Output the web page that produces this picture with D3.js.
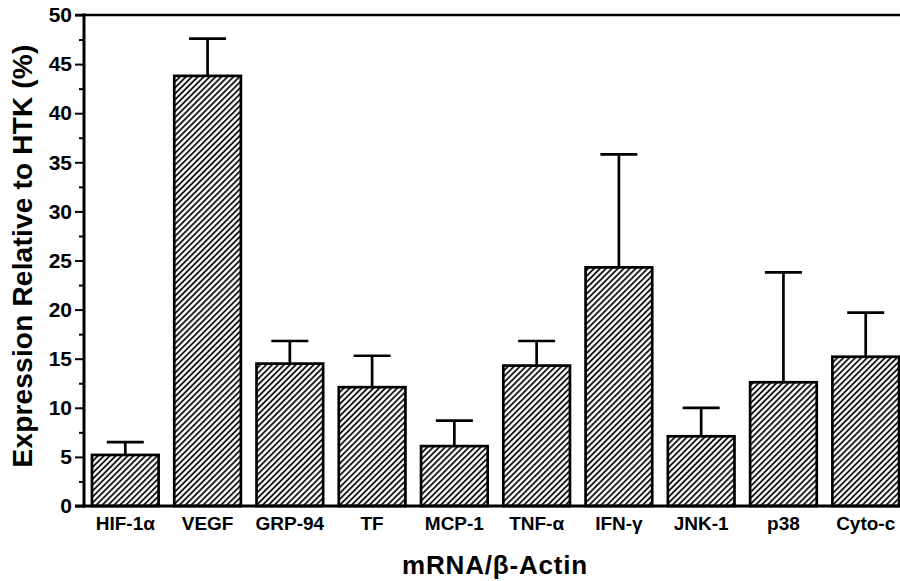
<!DOCTYPE html>
<html>
<head>
<meta charset="utf-8">
<script src="https://cdn.jsdelivr.net/npm/d3@7"></script>
<style>
  html, body { margin: 0; padding: 0; background: #fff; }
  svg { display: block; font-family: "Liberation Sans", Arial, Helvetica, sans-serif; font-weight: bold; }
</style>
</head>
<body>
<svg id="chart" width="900" height="581"></svg>
<script>
const categories = ["HIF-1α", "VEGF", "GRP-94", "TF", "MCP-1", "TNF-α", "IFN-γ", "JNK-1", "p38", "Cyto-c"];
const means = [5.2, 43.8, 14.5, 12.1, 6.1, 14.3, 24.3, 7.1, 12.6, 15.2];
const errors = [1.3, 3.8, 2.3, 3.2, 2.6, 2.5, 11.5, 2.9, 11.2, 4.5];
const yTicks = [0, 5, 10, 15, 20, 25, 30, 35, 40, 45, 50];
const yMinorTicks = [2.5, 7.5, 12.5, 17.5, 22.5, 27.5, 32.5, 37.5, 42.5, 47.5];
const yTitle = "Expression Relative to HTK (%)";
const xTitle = "mRNA/β-Actin";

const svg = d3.select("#chart");
const mLeft = 84, mRight = 907, mTop = 15, mBottom = 506;

const x = d3.scaleBand().domain(categories).range([mLeft, mRight]).paddingInner(0.19).paddingOuter(0.097);
const y = d3.scaleLinear().domain([0, 50]).range([mBottom, mTop]);

// hatch pattern
const defs = svg.append("defs");
const pat = defs.append("pattern")
  .attr("id", "hatch").attr("patternUnits", "userSpaceOnUse")
  .attr("width", 4.2).attr("height", 4.2)
  .attr("patternTransform", "rotate(45)");
pat.append("rect").attr("width", 4.2).attr("height", 4.2).attr("fill", "#fff");
pat.append("line").attr("x1", 1).attr("y1", -1).attr("x2", 1).attr("y2", 5.2)
  .attr("stroke", "#000").attr("stroke-width", 1.7);

const data = categories.map((c, i) => ({ c, m: means[i], e: errors[i] }));

// bars
svg.append("g").selectAll("rect").data(data).join("rect")
  .attr("x", d => x(d.c))
  .attr("y", d => y(d.m))
  .attr("width", x.bandwidth())
  .attr("height", d => y(0) - y(d.m))
  .attr("fill", "url(#hatch)")
  .attr("stroke", "#000").attr("stroke-width", 2.7);

// error bars
const capW = 37;
const eg = svg.append("g").attr("stroke", "#000").attr("stroke-width", 2.7);
eg.selectAll("line.v").data(data).join("line").attr("class", "v")
  .attr("x1", d => x(d.c) + x.bandwidth() / 2).attr("x2", d => x(d.c) + x.bandwidth() / 2)
  .attr("y1", d => y(d.m)).attr("y2", d => y(d.m + d.e));
eg.selectAll("line.c").data(data).join("line").attr("class", "c")
  .attr("x1", d => x(d.c) + x.bandwidth() / 2 - capW / 2).attr("x2", d => x(d.c) + x.bandwidth() / 2 + capW / 2)
  .attr("y1", d => y(d.m + d.e)).attr("y2", d => y(d.m + d.e));

// y axis
const yAxis = d3.axisLeft(y).tickValues(yTicks).tickSize(9).tickPadding(3).tickFormat(d3.format("d"));
const ga = svg.append("g").attr("transform", `translate(${mLeft},0)`).call(yAxis);
ga.select(".domain").remove();
ga.selectAll(".tick line").attr("stroke", "#000").attr("stroke-width", 2);
ga.selectAll(".tick text").attr("fill", "#000").attr("font-size", 21).attr("font-weight", "bold")
  .attr("font-family", "Liberation Sans, Arial, sans-serif");
const yMinor = d3.axisLeft(y).tickValues(yMinorTicks).tickSize(5).tickFormat("");
const gm = svg.append("g").attr("transform", `translate(${mLeft},0)`).call(yMinor);
gm.select(".domain").remove();
gm.selectAll(".tick line").attr("stroke", "#000").attr("stroke-width", 2);

// axis lines
svg.append("line").attr("x1", mLeft).attr("x2", mLeft).attr("y1", mTop - 1.5).attr("y2", mBottom + 1.5)
  .attr("stroke", "#000").attr("stroke-width", 3);
svg.append("line").attr("x1", mLeft - 9).attr("x2", 900).attr("y1", mBottom).attr("y2", mBottom)
  .attr("stroke", "#000").attr("stroke-width", 3);
svg.append("line").attr("x1", mLeft - 9).attr("x2", 900).attr("y1", mTop).attr("y2", mTop)
  .attr("stroke", "#000").attr("stroke-width", 2.5);

// x labels
const xAxis = d3.axisBottom(x).tickSize(0).tickPadding(0);
const gx = svg.append("g").attr("transform", `translate(0,${mBottom})`).call(xAxis);
gx.select(".domain").remove();
gx.selectAll(".tick text").attr("fill", "#000").attr("font-size", 19).attr("font-weight", "bold")
  .attr("font-family", "Liberation Sans, Arial, sans-serif")
  .attr("dy", null).attr("y", 24);

// titles
svg.append("text").attr("x", 495).attr("y", 574).attr("text-anchor", "middle")
  .attr("font-size", 26).attr("letter-spacing", 0.8).text(xTitle);
svg.append("text").attr("transform", "translate(32,256) rotate(-90)").attr("text-anchor", "middle")
  .attr("font-size", 28).attr("letter-spacing", 0.2).text(yTitle);
</script>
</body>
</html>
